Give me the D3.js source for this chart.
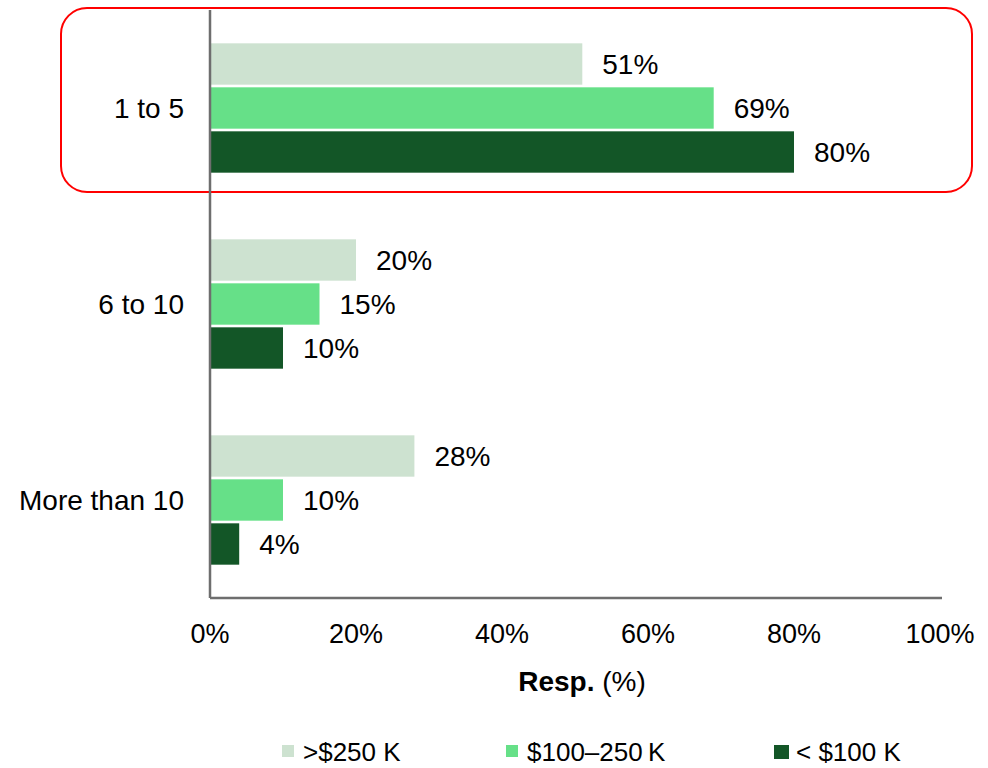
<!DOCTYPE html>
<html>
<head>
<meta charset="utf-8">
<script src="https://cdn.jsdelivr.net/npm/d3@7"></script>
<style>
  body { margin: 0; background: #fff; }
  svg { font-family: "Liberation Sans", Arial, sans-serif; }
</style>
</head>
<body>
<div id="chart"></div>
<script>
// data
var categories = ["1 to 5", "6 to 10", "More than 10"];
var seriesNames = [">$250 K", "$100\u2013250\u2009K", "< $100 K"];
var seriesColors = ["#cde2d0", "#66e088", "#135627"];
var over250 = [51, 20, 28];
var mid100to250 = [69, 15, 10];
var under100 = [80, 10, 4];
var xTicks = [0, 20, 40, 60, 80, 100];

var series = [over250, mid100to250, under100];

var width = 988, height = 768;
var svg = d3.select("#chart").append("svg")
  .attr("width", width)
  .attr("height", height);

var x = d3.scaleLinear().domain([0, 100]).range([210, 940]);

var y0 = d3.scaleBand()
  .domain(categories)
  .range([10, 598])
  .paddingInner(0.34)
  .paddingOuter(0.17);

var y1 = d3.scaleBand()
  .domain(d3.range(seriesNames.length))
  .range([0, y0.bandwidth()])
  .paddingInner(0.06);

// highlight box around first group
svg.append("rect")
  .attr("x", 61)
  .attr("y", 8)
  .attr("width", 911)
  .attr("height", 184)
  .attr("rx", 26)
  .attr("ry", 26)
  .attr("fill", "none")
  .attr("stroke", "#ff0000")
  .attr("stroke-width", 2);

// bars
series.forEach(function(vals, s) {
  var g = svg.append("g");
  g.selectAll("rect")
    .data(vals)
    .enter().append("rect")
      .attr("x", x(0))
      .attr("y", function(d, i) { return y0(categories[i]) + y1(s); })
      .attr("width", function(d) { return x(d) - x(0); })
      .attr("height", y1.bandwidth())
      .attr("fill", seriesColors[s]);

  g.selectAll("text")
    .data(vals)
    .enter().append("text")
      .attr("x", function(d) { return x(d) + 20; })
      .attr("y", function(d, i) { return y0(categories[i]) + y1(s) + y1.bandwidth() / 2; })
      .attr("dy", "0.36em")
      .attr("font-size", "28px")
      .attr("fill", "#000")
      .text(function(d) { return d + "%"; });
});

// axes lines
svg.append("line")
  .attr("x1", x(0)).attr("x2", x(0))
  .attr("y1", 10).attr("y2", 598)
  .attr("stroke", "#6e6e6e")
  .attr("stroke-width", 2.5);
svg.append("line")
  .attr("x1", x(0)).attr("x2", x(100) + 2)
  .attr("y1", 598).attr("y2", 598)
  .attr("stroke", "#6e6e6e")
  .attr("stroke-width", 2.5);

// category labels
svg.append("g").selectAll("text")
  .data(categories)
  .enter().append("text")
    .attr("x", 184)
    .attr("y", function(d) { return y0(d) + y0.bandwidth() / 2; })
    .attr("dy", "0.36em")
    .attr("text-anchor", "end")
    .attr("font-size", "28px")
    .attr("fill", "#000")
    .text(function(d) { return d; });

// x tick labels
svg.append("g").selectAll("text")
  .data(xTicks)
  .enter().append("text")
    .attr("x", function(d) { return x(d); })
    .attr("y", 643)
    .attr("text-anchor", "middle")
    .attr("font-size", "27px")
    .attr("fill", "#000")
    .text(function(d) { return d + "%"; });

// axis title
var title = svg.append("text")
  .attr("x", 582)
  .attr("y", 691)
  .attr("text-anchor", "middle")
  .attr("font-size", "28px")
  .attr("fill", "#000");
title.append("tspan").attr("font-weight", "bold").text("Resp.");
title.append("tspan").text(" (%)");

// legend
var legendX = [282, 506, 774];
var legend = svg.append("g");
seriesNames.forEach(function(name, i) {
  legend.append("rect")
    .attr("x", legendX[i])
    .attr("y", 745)
    .attr("width", i == 2 ? 15 : 12)
    .attr("height", i == 2 ? 14 : 12)
    .attr("fill", seriesColors[i]);
  legend.append("text")
    .attr("x", legendX[i] + (i == 2 ? 22 : 21))
    .attr("y", 761)
    .attr("font-size", "26px")
    .attr("fill", "#000")
    .text(name);
});
</script>
</body>
</html>
